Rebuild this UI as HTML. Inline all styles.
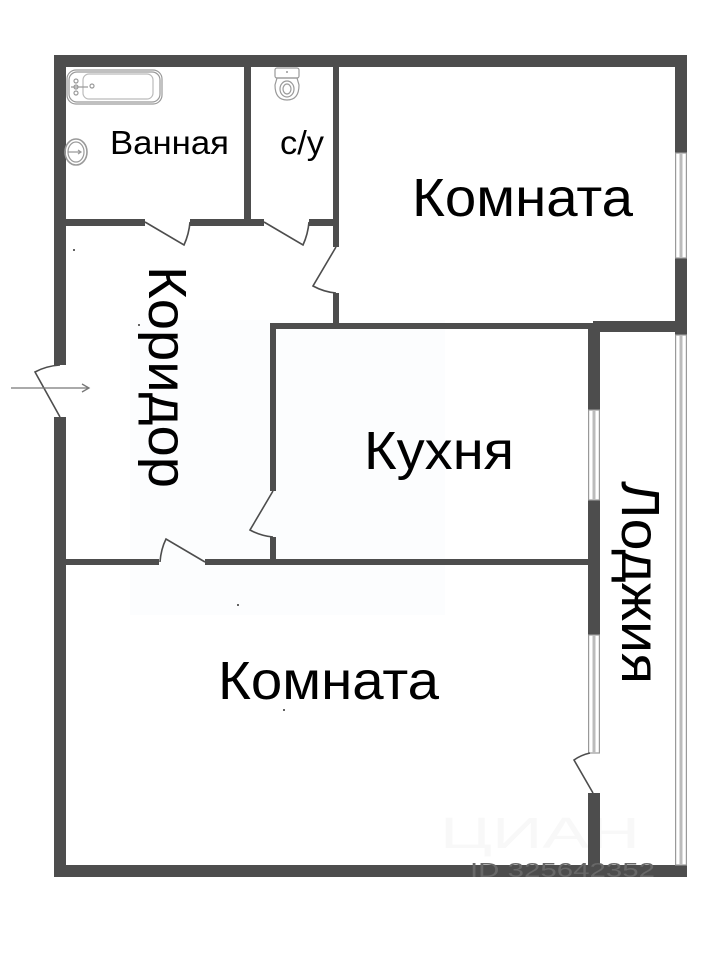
<!DOCTYPE html>
<html><head><meta charset="utf-8"><style>
html,body{margin:0;padding:0;background:#fff;width:727px;height:960px;overflow:hidden}
svg{display:block}
text{font-family:"Liberation Sans",sans-serif;fill:#000}
</style></head><body>
<svg width="727" height="960" viewBox="0 0 727 960" xmlns="http://www.w3.org/2000/svg">
<rect width="727" height="960" fill="#fff"/>
<rect x="130" y="320" width="315" height="295" fill="#fcfdfe"/>
<!-- Watermark under walls -->
<text x="440" y="848" font-size="44" textLength="200" lengthAdjust="spacingAndGlyphs" style="fill:#f8f8f8">ЦИАН</text>
<!-- Walls -->
<g fill="#4d4d4d">
<rect x="54" y="55" width="633" height="12"/>
<rect x="54" y="55" width="12" height="310"/>
<rect x="54" y="417" width="12" height="460"/>
<rect x="54" y="865" width="633" height="12"/>
<rect x="675" y="55" width="12" height="98"/>
<rect x="675" y="258" width="12" height="77"/>
<rect x="244" y="67" width="7" height="153"/>
<rect x="333" y="67" width="6" height="180"/>
<rect x="333" y="293" width="6" height="30"/>
<rect x="66" y="219" width="79" height="7"/>
<rect x="190" y="219" width="74" height="7"/>
<rect x="309" y="219" width="24" height="7"/>
<rect x="270" y="323" width="325" height="6"/>
<rect x="593" y="321" width="82" height="11"/>
<rect x="588" y="323" width="12" height="87"/>
<rect x="588" y="500" width="12" height="135"/>
<rect x="588" y="793" width="12" height="72"/>
<rect x="270" y="323" width="6" height="168"/>
<rect x="270" y="537" width="6" height="24"/>
<rect x="66" y="559" width="93" height="6"/>
<rect x="205" y="559" width="383" height="6"/>
</g>
<!-- Windows -->
<g fill="#fff" stroke="#999" stroke-width="1.2">
<rect x="675.6" y="153" width="10.8" height="105"/>
<rect x="675.6" y="335" width="10.8" height="530"/>
<rect x="588.6" y="410" width="10.8" height="90"/>
<rect x="588.6" y="635" width="10.8" height="118"/>
</g>
<g fill="#bbb">
<rect x="679.5" y="153" width="3" height="105"/>
<rect x="679.5" y="335" width="3" height="530"/>
<rect x="592.5" y="410" width="3" height="90"/>
<rect x="592.5" y="635" width="3" height="118"/>
</g>
<!-- Doors -->
<g fill="none" stroke="#4d4d4d" stroke-width="1.6">
<path d="M145 222 L184 245 Q189 234 190 222"/>
<path d="M264 222 L303 245 Q308 234 309 222"/>
<path d="M336 247 L313 286 Q324 292 336 293"/>
<path d="M273 491 L250 530 Q261 536 273 537"/>
<path d="M160 562 Q161 549 166 539 L205 562"/>
<path d="M60 417 L35 372 Q46 366 60 365"/>
<path d="M593 793 L574 760 Q581 755 590 753"/>
</g>
<!-- Entrance arrow -->
<g fill="none" stroke="#777" stroke-width="1.3">
<path d="M11 388 H89"/>
<path d="M82 384 L89 388 L82 392"/>
</g>
<!-- Bathtub -->
<g fill="none" stroke="#9a9a9a" stroke-width="1.2">
<rect x="67" y="70" width="95" height="34" rx="9"/>
<rect x="69" y="72" width="91" height="30" rx="8"/>
<rect x="83" y="74" width="70" height="25" rx="6" stroke="#bbb"/>
<circle cx="76" cy="81" r="2"/>
<circle cx="76" cy="87" r="2"/>
<circle cx="76" cy="93" r="2"/>
<circle cx="92" cy="86" r="2"/>
<path d="M71 87 H88"/>
<!-- Sink -->
<ellipse cx="76" cy="152" rx="11" ry="13" stroke-width="1.6"/>
<ellipse cx="76" cy="152" rx="8" ry="10"/>
<path d="M68 152 H81 M78 150 L81 152 L78 154"/>
<!-- Toilet -->
<rect x="275" y="68" width="24" height="10" rx="2"/>
<path d="M277 78 H297 L299 85 Q299 100 287 100 Q275 100 275 85 Z"/>
<ellipse cx="287" cy="89" rx="7" ry="8"/>
<ellipse cx="287" cy="89" rx="4" ry="5"/>
</g>
<circle cx="287" cy="72" r="1" fill="#999"/>
<!-- Specks -->
<g fill="#333">
<circle cx="74" cy="250" r="1"/>
<circle cx="139" cy="325" r="1"/>
<circle cx="238" cy="605" r="1"/>
<circle cx="284" cy="710" r="1"/>
</g>
<!-- Labels -->
<text x="110" y="154" font-size="33" textLength="119" lengthAdjust="spacingAndGlyphs">Ванная</text>
<text x="280" y="154" font-size="33" textLength="44" lengthAdjust="spacingAndGlyphs">с/у</text>
<text x="412" y="216" font-size="54" textLength="221" lengthAdjust="spacingAndGlyphs">Комната</text>
<text x="218" y="699" font-size="54" textLength="221" lengthAdjust="spacingAndGlyphs">Комната</text>
<text x="364" y="469" font-size="54" textLength="150" lengthAdjust="spacingAndGlyphs">Кухня</text>
<text transform="translate(149,266) rotate(90)" font-size="54" textLength="222" lengthAdjust="spacingAndGlyphs">Коридор</text>
<text transform="translate(622,481) rotate(90)" font-size="54" textLength="203" lengthAdjust="spacingAndGlyphs">Лоджия</text>
<!-- Watermark ID -->
<text x="470" y="877" font-size="20" textLength="185" lengthAdjust="spacingAndGlyphs" style="fill:#686868">ID 325642352</text>
</svg>
</body></html>
